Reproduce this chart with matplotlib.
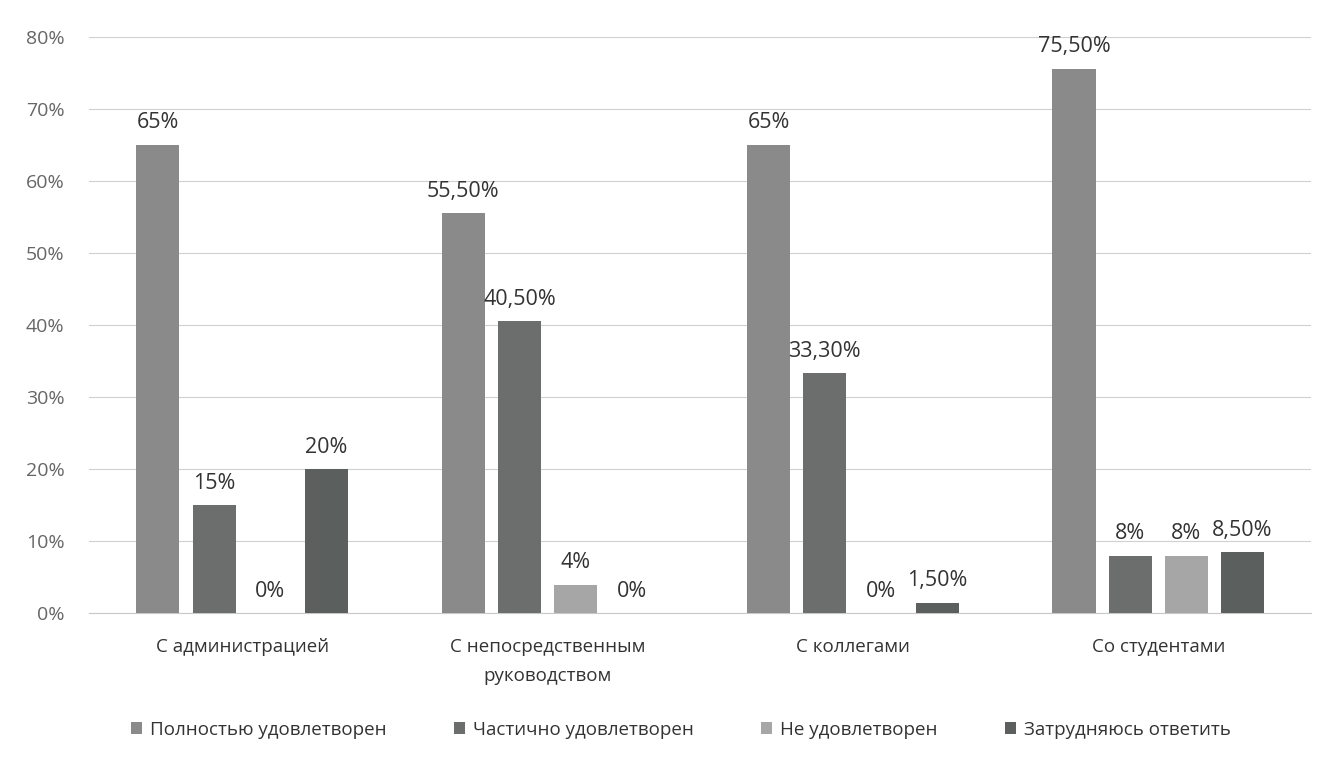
import numpy as np
import matplotlib
matplotlib.use("Agg")
import matplotlib.pyplot as plt

plt.rcParams["font.family"] = ["Open Sans", "DejaVu Sans"]

categories = ["С администрацией", "С непосредственным\nруководством", "С коллегами", "Со студентами"]
series_names = ["Полностью удовлетворен", "Частично удовлетворен", "Не удовлетворен", "Затрудняюсь ответить"]
full = [65, 55.5, 65, 75.5]
partial = [15, 40.5, 33.3, 8]
not_sat = [0, 4, 0, 8]
unsure = [20, 0, 1.5, 8.5]
labels = [
    ["65%", "55,50%", "65%", "75,50%"],
    ["15%", "40,50%", "33,30%", "8%"],
    ["0%", "4%", "0%", "8%"],
    ["20%", "0%", "1,50%", "8,50%"],
]
colors = ["#8a8a8a", "#6c6e6e", "#a6a6a6", "#5b5f5e"]

values = [full, partial, not_sat, unsure]

fig = plt.figure(figsize=(13.35, 7.62), dpi=100)
ax = fig.add_axes([0.067, 0.195, 0.915, 0.757])

x = np.arange(len(categories))
w = 0.141
step = 0.184
for i, (vals, name, col) in enumerate(zip(values, series_names, colors)):
    pos = x + (i - 1.5) * step
    ax.bar(pos, vals, width=w, color=col, label=name, zorder=3)
    for p, v, t in zip(pos, vals, labels[i]):
        ax.text(p, v + 1.6, t, ha="center", va="bottom", fontsize=15.5, color="#333333")

ax.set_xlim(-0.5, 3.5)
ax.set_ylim(0, 80)
ax.set_yticks(range(0, 81, 10))
ax.set_yticklabels([f"{v}%" for v in range(0, 81, 10)])
ax.set_xticks(x)
ax.set_xticklabels(categories, fontsize=13.5, color="#333333", linespacing=1.75)
ax.tick_params(axis="y", labelsize=14, labelcolor="#666666", length=0, pad=18)
ax.tick_params(axis="x", length=0, pad=18)
ax.grid(axis="y", color="#d0d0d0", lw=0.8, zorder=0)
for s in ["top", "right", "left"]:
    ax.spines[s].set_visible(False)
ax.spines["bottom"].set_color("#c8c8c8")

fig.legend(loc="lower center", ncol=4, frameon=False, fontsize=13.5,
           bbox_to_anchor=(0.51, 0.008), handlelength=0.6, handleheight=0.6,
           columnspacing=3.6, handletextpad=0.4, labelcolor="#333333")

fig.savefig("out.png", dpi=100, facecolor="white")
